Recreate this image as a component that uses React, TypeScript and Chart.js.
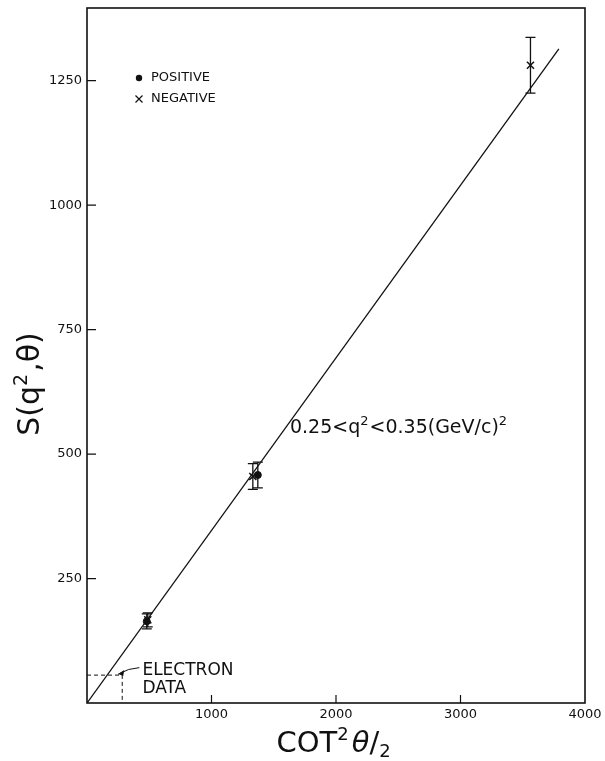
import React, { useEffect, useRef } from "react";
import { Chart, registerables } from "chart.js";
Chart.register(...registerables);

const xTickValues = [0, 1000, 2000, 3000, 4000];
const yTickValues = [0, 250, 500, 750, 1000, 1250];

const posX = [480, 1372];
const posY = [164, 458];
const posErr = [15, 26];

const negX = [488, 1332, 3562];
const negY = [167, 455, 1281];
const negErr = [14, 26, 56];

const fitX = [0, 3790];
const fitY = [0, 1314];

const elecX = [0, 283, 283];
const elecY = [56, 56, 0];

const legendLabels = ["POSITIVE", "NEGATIVE"];
const annotation = { x: 1630, y: 556 };
const elecLabel = { x: 445, y: 65, y2: 28 };

const FONT = "'DejaVu Sans', sans-serif";

const decor = {
  id: "decor",
  afterDatasetsDraw(chart: any) {
    const ctx = chart.ctx;
    const xs = chart.scales.x;
    const ys = chart.scales.y;
    const ca = chart.chartArea;
    ctx.save();
    ctx.strokeStyle = "#111";
    ctx.fillStyle = "#111";

    // error bars
    const drawErr = (xv: number[], yv: number[], ev: number[]) => {
      ctx.lineWidth = 1.3;
      for (let i = 0; i < xv.length; i++) {
        const px = xs.getPixelForValue(xv[i]);
        const t = ys.getPixelForValue(yv[i] + ev[i]);
        const b = ys.getPixelForValue(yv[i] - ev[i]);
        ctx.beginPath();
        ctx.moveTo(px, t);
        ctx.lineTo(px, b);
        ctx.moveTo(px - 5, t);
        ctx.lineTo(px + 5, t);
        ctx.moveTo(px - 5, b);
        ctx.lineTo(px + 5, b);
        ctx.stroke();
      }
    };
    drawErr(posX, posY, posErr);
    drawErr(negX, negY, negErr);

    // frame
    ctx.lineWidth = 1.6;
    ctx.strokeRect(ca.left, ca.top, ca.right - ca.left, ca.bottom - ca.top);

    // inward ticks
    ctx.lineWidth = 1.2;
    ctx.beginPath();
    for (const v of xTickValues) {
      if (v === 0 || v === 4000) continue;
      const px = xs.getPixelForValue(v);
      ctx.moveTo(px, ca.bottom);
      ctx.lineTo(px, ca.bottom - 8);
    }
    for (const v of yTickValues) {
      if (v === 0) continue;
      const py = ys.getPixelForValue(v);
      ctx.moveTo(ca.left, py);
      ctx.lineTo(ca.left + 9, py);
    }
    ctx.stroke();

    // legend
    const lx = ca.left + 52;
    const ly1 = ca.top + 70;
    const ly2 = ca.top + 91;
    ctx.beginPath();
    ctx.arc(lx, ly1, 3.2, 0, Math.PI * 2);
    ctx.fill();
    ctx.lineWidth = 1.2;
    ctx.beginPath();
    ctx.moveTo(lx - 3.5, ly2 - 3.5);
    ctx.lineTo(lx + 3.5, ly2 + 3.5);
    ctx.moveTo(lx + 3.5, ly2 - 3.5);
    ctx.lineTo(lx - 3.5, ly2 + 3.5);
    ctx.stroke();
    ctx.font = `13px ${FONT}`;
    ctx.textBaseline = "middle";
    ctx.textAlign = "left";
    ctx.fillText(legendLabels[0], lx + 12, ly1);
    ctx.fillText(legendLabels[1], lx + 12, ly2);

    // annotation
    let ax = xs.getPixelForValue(annotation.x);
    const ay = ys.getPixelForValue(annotation.y);
    const parts: [string, boolean][] = [
      ["0.25<q", false],
      ["2", true],
      ["<0.35(GeV/c)", false],
      ["2", true],
    ];
    ctx.textBaseline = "alphabetic";
    for (const [txt, sup] of parts) {
      ctx.font = sup ? `13px ${FONT}` : `19px ${FONT}`;
      ctx.fillText(txt, ax, sup ? ay - 1 : ay + 7);
      ax += ctx.measureText(txt).width + (sup ? 1 : 0);
    }

    // electron data label
    const ex = xs.getPixelForValue(elecLabel.x);
    ctx.font = `17px ${FONT}`;
    ctx.textBaseline = "middle";
    ctx.fillText("ELECTRON", ex, ys.getPixelForValue(elecLabel.y));
    ctx.fillText("DATA", ex, ys.getPixelForValue(elecLabel.y2));

    // arrow
    const tipX = xs.getPixelForValue(elecX[1]) - 4;
    const tipY = ys.getPixelForValue(elecY[1]) - 1;
    ctx.lineWidth = 1;
    ctx.beginPath();
    ctx.moveTo(ex - 3, ys.getPixelForValue(elecLabel.y) - 3);
    ctx.quadraticCurveTo(ex - 14, tipY - 6, tipX, tipY);
    ctx.stroke();
    ctx.beginPath();
    ctx.moveTo(tipX, tipY);
    ctx.lineTo(tipX + 6, tipY - 4);
    ctx.lineTo(tipX + 5, tipY + 2);
    ctx.closePath();
    ctx.fill();

    // x axis title: COT²θ/2
    const segX: [string, string, number][] = [
      ["COT", `29px ${FONT}`, 0],
      ["2", `18px ${FONT}`, -12],
      ["θ", `italic 29px ${FONT}`, 0],
      ["/", `29px ${FONT}`, 0],
      ["2", `18px ${FONT}`, 5],
    ];
    ctx.textBaseline = "alphabetic";
    let total = 0;
    for (const [t, f] of segX) {
      ctx.font = f;
      total += ctx.measureText(t).width;
    }
    let tx = (ca.left + ca.right) / 2 - total / 2 - 4;
    const tyBase = 752;
    for (const [t, f, dy] of segX) {
      ctx.font = f;
      ctx.fillText(t, tx, tyBase + dy);
      tx += ctx.measureText(t).width + (t === "2" && dy < 0 ? 3 : 0);
    }

    // y axis title: S(q²,θ)
    const segY: [string, string, number][] = [
      ["S(q", `30px ${FONT}`, 0],
      ["2", `19px ${FONT}`, -12],
      [",θ)", `30px ${FONT}`, 0],
    ];
    let totalY = 0;
    for (const [t, f] of segY) {
      ctx.font = f;
      totalY += ctx.measureText(t).width;
    }
    ctx.save();
    ctx.translate(39, 385);
    ctx.rotate(-Math.PI / 2);
    let yx = -totalY / 2;
    for (const [t, f, dy] of segY) {
      ctx.font = f;
      ctx.fillText(t, yx, dy);
      yx += ctx.measureText(t).width + (t === "2" ? 2 : 0);
    }
    ctx.restore();

    ctx.restore();
  },
};

export default function App() {
  const ref = useRef<HTMLCanvasElement>(null);
  useEffect(() => {
    document.body.style.margin = "0";
    const chart = new Chart(ref.current!, {
      type: "scatter",
      data: {
        datasets: [
          {
            type: "line",
            data: fitX.map((x, i) => ({ x, y: fitY[i] })),
            borderColor: "#111",
            borderWidth: 1.3,
            pointRadius: 0,
            fill: false,
          },
          {
            type: "line",
            data: elecX.map((x, i) => ({ x, y: elecY[i] })),
            borderColor: "#111",
            borderWidth: 1,
            borderDash: [4, 3],
            pointRadius: 0,
            fill: false,
          },
          {
            data: posX.map((x, i) => ({ x, y: posY[i] })),
            pointStyle: "circle",
            pointRadius: 3.5,
            backgroundColor: "#111",
            borderColor: "#111",
          },
          {
            data: negX.map((x, i) => ({ x, y: negY[i] })),
            pointStyle: "crossRot",
            pointRadius: 5,
            borderWidth: 1.5,
            borderColor: "#111",
          },
        ],
      },
      options: {
        animation: false,
        responsive: false,
        maintainAspectRatio: false,
        layout: { padding: { top: 8, right: 20, left: 0, bottom: 0 } },
        plugins: { legend: { display: false }, tooltip: { enabled: false } },
        scales: {
          x: {
            type: "linear",
            min: 0,
            max: 4000,
            afterBuildTicks: (s: any) => {
              s.ticks = xTickValues.map((v) => ({ value: v }));
            },
            afterFit: (s: any) => {
              s.height = 58;
              s.paddingLeft = 0;
              s.paddingRight = 0;
            },
            grid: { display: false, drawTicks: false },
            border: { display: false },
            ticks: {
              color: "#111",
              padding: 4,
              maxRotation: 0,
              font: { family: FONT, size: 13 },
              callback: (v: any) => (v === 0 ? "" : String(v)),
            },
          },
          y: {
            type: "linear",
            min: 0,
            max: 1396,
            afterBuildTicks: (s: any) => {
              s.ticks = yTickValues.map((v) => ({ value: v }));
            },
            afterFit: (s: any) => {
              s.width = 87;
              s.paddingTop = 0;
              s.paddingBottom = 0;
            },
            grid: { display: false, drawTicks: false },
            border: { display: false },
            ticks: {
              color: "#111",
              padding: 5,
              font: { family: FONT, size: 13 },
              callback: (v: any) => (v === 0 ? "" : String(v)),
            },
          },
        },
      },
      plugins: [decor],
    });
    return () => chart.destroy();
  }, []);
  return (
    <div style={{ width: 605, height: 761, background: "#fff" }}>
      <canvas ref={ref} width={605} height={761} style={{ display: "block" }} />
    </div>
  );
}
